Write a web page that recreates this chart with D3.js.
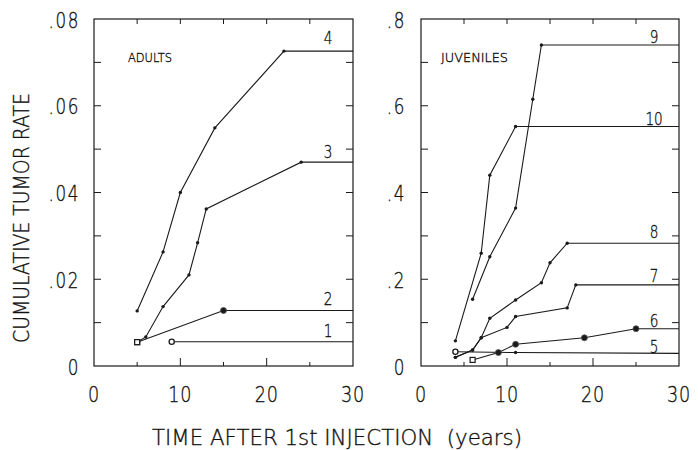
<!DOCTYPE html>
<html>
<head>
<meta charset="utf-8">
<script src="https://cdn.jsdelivr.net/npm/d3@7"></script>
<style>
  html, body { margin: 0; padding: 0; background: #fff; }
  svg text {
    font-family: "DejaVu Sans", sans-serif; font-weight: 200;
    fill: #111; stroke: #111; stroke-width: 0.35;
  }
</style>
</head>
<body>
<svg id="chart" width="698" height="450"></svg>
<script>
// x ticks shared by both panels (years)
const xTicks = [0, 10, 20, 30];
const xMinor = [5, 15, 25];

// adults panel
const adultTicks = [0, 0.02, 0.04, 0.06, 0.08];
const adultTickLabels = ['0', '.02', '.04', '.06', '.08'];
const adult1 = [[9, 0.0056], [30, 0.0056]];
const adult2 = [[5, 0.0055], [15, 0.0128], [30, 0.0128]];
const adult3 = [[5, 0.0055], [6, 0.0067], [8, 0.0137], [11, 0.021], [12, 0.0284], [13, 0.0362], [24, 0.047], [30, 0.047]];
const adult4 = [[5, 0.0127], [8, 0.0263], [10, 0.040], [14, 0.0549], [22, 0.0726], [30, 0.0726]];

// juveniles panel
const juvTicks = [0, 0.2, 0.4, 0.6, 0.8];
const juvTickLabels = ['0', '.2', '.4', '.6', '.8'];
const juv5 = [[4, 0.033], [11, 0.031], [30, 0.029]];
const juv6 = [[6, 0.014], [9, 0.031], [11, 0.050], [19, 0.065], [25, 0.086], [30, 0.086]];
const juv7 = [[4, 0.020], [6, 0.037], [7, 0.065], [10, 0.089], [11, 0.114], [17, 0.134], [18, 0.187], [30, 0.187]];
const juv8 = [[4, 0.020], [6, 0.037], [7, 0.065], [8, 0.110], [11, 0.152], [14, 0.192], [15, 0.238], [17, 0.283], [30, 0.283]];
const juv9 = [[6, 0.154], [8, 0.252], [11, 0.364], [13, 0.615], [14, 0.740], [30, 0.740]];
const juv10 = [[4, 0.058], [7, 0.26], [8, 0.44], [11, 0.552], [30, 0.552]];

const svg = d3.select('#chart');
const ink = '#1a1a1a';
const plotTop = 19, plotBottom = 366;
const narrow = 0.8; // plotter lettering is tall and narrow

// condensed text: placed with translate, squeezed horizontally
function label(parent, x, y, str, size, anchor) {
  return parent.append('text')
    .attr('transform', `translate(${x},${y}) scale(${narrow},1)`)
    .attr('text-anchor', anchor || 'middle')
    .attr('font-size', size)
    .text(str);
}

function panel(cfg) {
  const x = d3.scaleLinear().domain([0, 30]).range([cfg.left, cfg.right]);
  const y = d3.scaleLinear().domain([0, cfg.yMax]).range([plotBottom, plotTop]);
  const g = svg.append('g');

  // frame
  g.append('rect')
    .attr('x', cfg.left).attr('y', plotTop)
    .attr('width', cfg.right - cfg.left).attr('height', plotBottom - plotTop)
    .attr('fill', 'none').attr('stroke', ink).attr('stroke-width', 1.2);

  // x ticks, bottom and top
  xTicks.concat(xMinor).filter(d => d > 0 && d < 30).forEach(d => {
    const major = xTicks.includes(d);
    g.append('line').attr('x1', x(d)).attr('x2', x(d))
      .attr('y1', plotBottom).attr('y2', plotBottom - (major ? 8 : 4))
      .attr('stroke', ink);
    g.append('line').attr('x1', x(d)).attr('x2', x(d))
      .attr('y1', plotTop).attr('y2', plotTop + 5)
      .attr('stroke', ink);
  });
  xTicks.forEach(d => label(g, x(d), plotBottom + 36, d, 22).attr('letter-spacing', 1));

  // y ticks, left and right (minor every half step)
  const step = cfg.yTicks[1] / 2;
  d3.range(1, 8).map(i => i * step).forEach(d => {
    g.append('line').attr('x1', cfg.left).attr('x2', cfg.left + 7)
      .attr('y1', y(d)).attr('y2', y(d)).attr('stroke', ink);
    g.append('line').attr('x1', cfg.right).attr('x2', cfg.right - 7)
      .attr('y1', y(d)).attr('y2', y(d)).attr('stroke', ink);
  });
  cfg.yTicks.forEach((d, i) =>
    label(g, cfg.left - cfg.labelGap, y(d) + 8.5, cfg.yTickLabels[i], 21, 'end')
      .attr('letter-spacing', 2));

  // group name
  g.append('text')
    .attr('x', cfg.nameX).attr('y', 62)
    .attr('font-size', 12).attr('textLength', cfg.nameW)
    .attr('lengthAdjust', 'spacingAndGlyphs')
    .text(cfg.name);

  const line = d3.line().x(d => x(d[0])).y(d => y(d[1]));

  cfg.series.forEach(s => {
    g.append('path').datum(s.data)
      .attr('d', line).attr('fill', 'none')
      .attr('stroke', ink).attr('stroke-width', 1.1);

    // markers on every measured point (the point at 30 is only the line's end)
    s.data.forEach((p, i) => {
      if (p[0] === 30) return;
      const cx = x(p[0]), cy = y(p[1]);
      const kind = (i === 0 && s.start) ? s.start : s.dot;
      if (kind === 'square') {
        g.append('rect').attr('x', cx - 2.5).attr('y', cy - 2.5)
          .attr('width', 5).attr('height', 5)
          .attr('fill', '#fff').attr('stroke', ink).attr('stroke-width', 1.2);
      } else if (kind === 'ring') {
        g.append('circle').attr('cx', cx).attr('cy', cy).attr('r', 2.6)
          .attr('fill', '#fff').attr('stroke', ink).attr('stroke-width', 1.3);
      } else if (kind === 'big') {
        g.append('circle').attr('cx', cx).attr('cy', cy).attr('r', 3)
          .attr('fill', ink).attr('stroke', '#555').attr('stroke-width', 0.8);
      } else {
        g.append('circle').attr('cx', cx).attr('cy', cy).attr('r', 1.7).attr('fill', ink);
      }
    });

    const last = s.data[s.data.length - 1];
    label(g, x(27.1), y(last[1]) - s.lift, s.label, 17);
  });
}

panel({
  left: 94, right: 353, yMax: 0.08, labelGap: 14,
  yTicks: adultTicks, yTickLabels: adultTickLabels,
  name: 'ADULTS', nameX: 128, nameW: 44,
  series: [
    { data: adult1, label: '1', start: 'ring', dot: 'dot', lift: 5 },
    { data: adult2, label: '2', start: 'square', dot: 'big', lift: 5 },
    { data: adult3, label: '3', start: 'square', dot: 'dot', lift: 4 },
    { data: adult4, label: '4', start: null, dot: 'dot', lift: 7 }
  ]
});

panel({
  left: 421, right: 679, yMax: 0.8, labelGap: 15,
  yTicks: juvTicks, yTickLabels: juvTickLabels,
  name: 'JUVENILES', nameX: 441, nameW: 67,
  series: [
    { data: juv5, label: '5', start: 'ring', dot: 'dot', lift: 0 },
    { data: juv6, label: '6', start: 'square', dot: 'big', lift: 2 },
    { data: juv7, label: '7', start: null, dot: 'dot', lift: 3 },
    { data: juv8, label: '8', start: null, dot: 'dot', lift: 5 },
    { data: juv9, label: '9', start: null, dot: 'dot', lift: 2 },
    { data: juv10, label: '10', start: null, dot: 'dot', lift: 2 }
  ]
});

// axis titles
svg.append('text')
  .attr('x', 152).attr('y', 445)
  .attr('font-size', 21).attr('textLength', 370)
  .attr('lengthAdjust', 'spacingAndGlyphs')
  .attr('xml:space', 'preserve')
  .text('TIME AFTER 1st INJECTION  (years)');

svg.append('text')
  .attr('transform', 'translate(29,218) rotate(-90)')
  .attr('text-anchor', 'middle')
  .attr('font-size', 21).attr('textLength', 250)
  .attr('lengthAdjust', 'spacingAndGlyphs')
  .text('CUMULATIVE TUMOR RATE');
</script>
</body>
</html>
